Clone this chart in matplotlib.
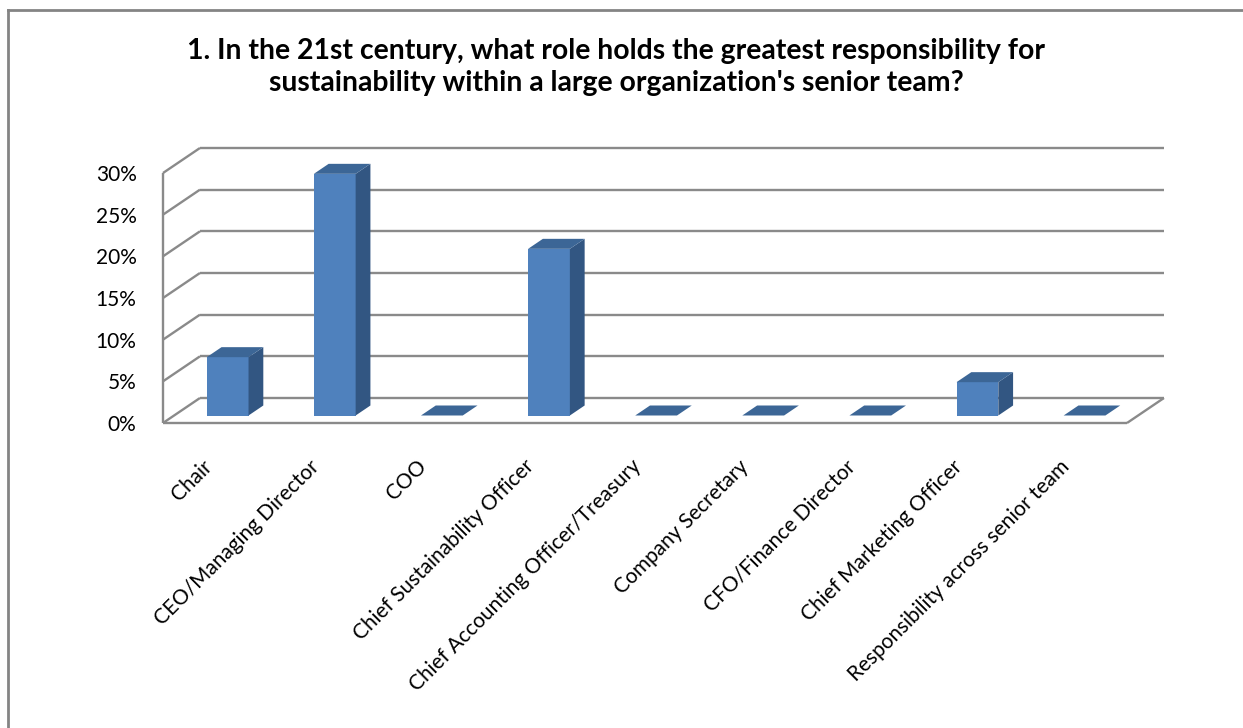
import matplotlib
matplotlib.use('Agg')
import numpy as np
from matplotlib import pyplot as plt
from matplotlib.patches import Polygon
from matplotlib.lines import Line2D

categories = ['Chair', 'CEO/Managing Director', 'COO', 'Chief Sustainability Officer',
              'Chief Accounting Officer/Treasury', 'Company Secretary',
              'CFO/Finance Director', 'Chief Marketing Officer',
              'Responsibility across senior team']
values = [7, 29, 0, 20, 0, 0, 0, 4, 0]
yticks = [0, 5, 10, 15, 20, 25, 30]
ylabels = ['0%', '5%', '10%', '15%', '20%', '25%', '30%']
title = ("1. In the 21st century, what role holds the greatest responsibility for\n"
         "sustainability within a large organization's senior team?")

plt.rcParams['font.family'] = ['Lato', 'DejaVu Sans']

W, H = 1243, 728
fig = plt.figure(figsize=(W / 100, H / 100), dpi=100)
ax = fig.add_axes([163 / W, (H - 423) / H, 964 / W, 250 / H])
n = len(categories)
ymax = yticks[-1]
ax.set_xlim(0, n)
ax.set_ylim(0, ymax)
for s in ax.spines.values():
    s.set_visible(False)
ax.patch.set_alpha(0)

# fake 3d: depth offset in data units
dx = 0.345
dy = 3.0
grid = '#8a8a8a'


def line(xs, ys):
    ax.plot(xs, ys, color=grid, lw=1.7, clip_on=False, solid_capstyle='butt', zorder=1)


for v in yticks:
    line([dx, n + dx], [v + dy, v + dy])  # back wall
    line([0, dx], [v, v + dy])  # side wall
line([0, 0], [0, ymax])
line([0, n], [0, 0])
line([n, n + dx], [0, dy])

# bars
front_c, side_c, top_c = '#4f81bd', '#325682', '#3c6696'
z0, z1 = 0.3, 0.7
bw = 0.39
ddx, ddy = (z1 - z0) * dx, (z1 - z0) * dy
for i, v in enumerate(values):
    x0 = i + 0.5 - bw / 2 + z0 * dx
    y0 = z0 * dy
    top = [(x0, y0 + v), (x0 + bw, y0 + v), (x0 + bw + ddx, y0 + v + ddy), (x0 + ddx, y0 + v + ddy)]
    if v > 0:
        front = [(x0, y0), (x0 + bw, y0), (x0 + bw, y0 + v), (x0, y0 + v)]
        side = [(x0 + bw, y0), (x0 + bw + ddx, y0 + ddy), (x0 + bw + ddx, y0 + v + ddy), (x0 + bw, y0 + v)]
        ax.add_patch(Polygon(front, closed=True, fc=front_c, ec='none', zorder=3, clip_on=False))
        ax.add_patch(Polygon(side, closed=True, fc=side_c, ec='none', zorder=3, clip_on=False))
    ax.add_patch(Polygon(top, closed=True, fc=top_c, ec='none', zorder=3, clip_on=False))

ax.set_yticks(yticks, ylabels)
ax.tick_params(axis='y', length=0, pad=19, labelsize=15)
ax.set_xticks(np.arange(n) + 0.5, categories, rotation=45, ha='right')
ax.tick_params(axis='x', length=0, pad=24, labelsize=15)

fig.text(616 / W, 1 - 67 / H, title, ha='center', va='center', fontsize=20.4,
         fontweight='bold', linespacing=1.32)

# outer chart border (top and left only visible)
fig.add_artist(Line2D([8 / W, 1], [1 - 10 / H, 1 - 10 / H], color='#848484', lw=2))
fig.add_artist(Line2D([8 / W, 8 / W], [0, 1 - 10 / H], color='#848484', lw=2))

fig.savefig('out.png', dpi=100)
